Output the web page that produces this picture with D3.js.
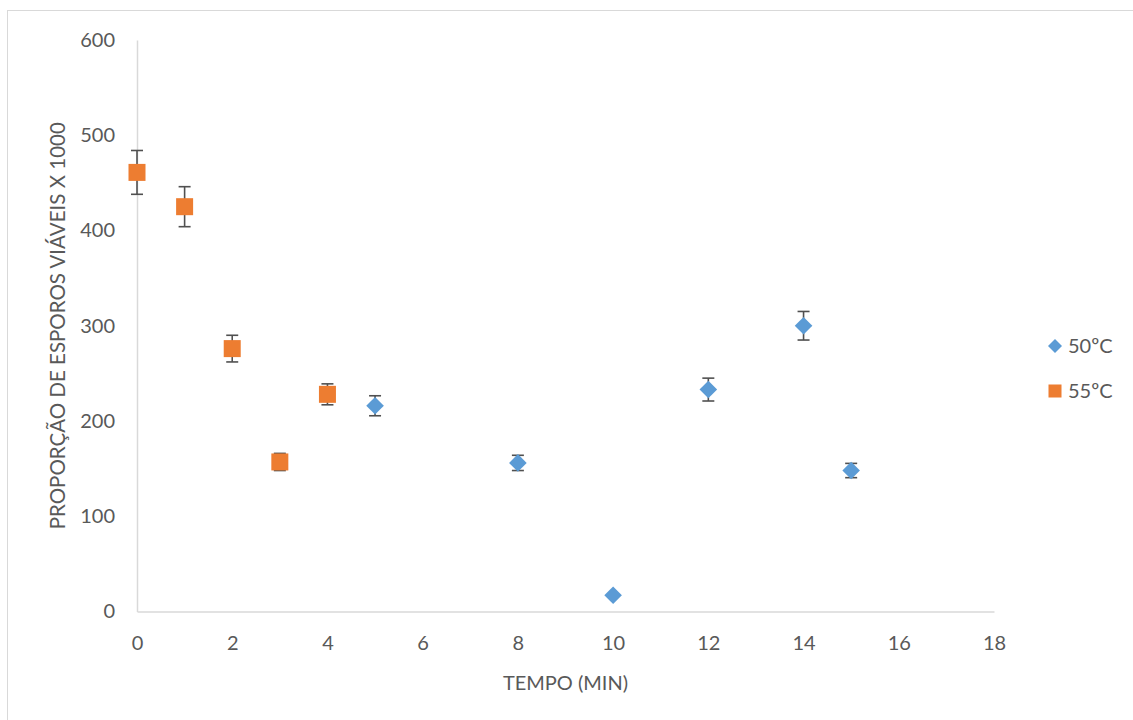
<!DOCTYPE html>
<html>
<head>
<meta charset="utf-8">
<script src="https://cdn.jsdelivr.net/npm/d3@7"></script>
<style>
  body { margin: 0; background: #fff; }
  text { font-family: Lato, "Open Sans", sans-serif; fill: #595959; }
</style>
</head>
<body>
<div id="chart"></div>
<script>
// 50ºC series
var tempo50 = [5, 8, 10, 12, 14, 15]
var valores50 = [216, 156, 17, 233, 300, 148]
var erros50 = [10.5, 8, 0, 12, 15, 7.5]

// 55ºC series
var tempo55 = [0, 1, 2, 3, 4]
var valores55 = [461, 425, 276, 157, 228]
var erros55 = [23, 21, 14, 9, 11]

var xTicks = [0, 2, 4, 6, 8, 10, 12, 14, 16, 18]
var yTicks = [0, 100, 200, 300, 400, 500, 600]
var seriesNames = ['50ºC', '55ºC']

var width = 1133, height = 720

var svg = d3.select('#chart').append('svg')
  .attr('width', width)
  .attr('height', height)

// chart border
svg.append('rect')
  .attr('x', 7.5).attr('y', 10.5)
  .attr('width', 1140).attr('height', 730)
  .attr('fill', 'none')
  .attr('stroke', '#d9d9d9')

var x = d3.scaleLinear().domain([0, 18]).range([137, 994])
var y = d3.scaleLinear().domain([0, 600]).range([611.5, 40])

// axes
var xAxis = d3.axisBottom(x).tickValues(xTicks).tickSize(0).tickPadding(24)
var gx = svg.append('g').attr('transform', 'translate(0,' + y(0) + ')').call(xAxis)
gx.select('.domain').attr('stroke', '#d9d9d9').attr('stroke-width', 1.5)
gx.selectAll('text').style('font-size', '20px').style('fill', '#595959').attr('font-family', null)

var yAxis = d3.axisLeft(y).tickValues(yTicks).tickSize(0).tickPadding(22)
var gy = svg.append('g').attr('transform', 'translate(' + x(0) + ',0)').call(yAxis)
gy.select('.domain').attr('stroke', '#d9d9d9').attr('stroke-width', 1.5)
gy.selectAll('text').style('font-size', '20px').style('fill', '#595959').attr('font-family', null)

// axis titles
svg.append('text')
  .attr('x', (x(0) + x(18)) / 2).attr('y', 690)
  .attr('text-anchor', 'middle')
  .style('font-size', '20px')
  .text('TEMPO (MIN)')

svg.append('text')
  .attr('transform', 'translate(65,' + (y(0) + y(600)) / 2 + ') rotate(-90)')
  .attr('text-anchor', 'middle')
  .style('font-size', '20.5px')
  .text('PROPORÇÃO DE ESPOROS VIÁVEIS X 1000')

// error bars
function errorBars(xs, vals, errs) {
  var g = svg.append('g').attr('stroke', '#505050').attr('stroke-width', 1.6)
  xs.forEach(function(t, i) {
    if (!errs[i]) return
    var cx = x(t), top = y(vals[i] + errs[i]), bot = y(vals[i] - errs[i])
    g.append('line').attr('x1', cx).attr('x2', cx).attr('y1', top).attr('y2', bot)
    g.append('line').attr('x1', cx - 6).attr('x2', cx + 6).attr('y1', top).attr('y2', top)
    g.append('line').attr('x1', cx - 6).attr('x2', cx + 6).attr('y1', bot).attr('y2', bot)
  })
}
errorBars(tempo50, valores50, erros50)
errorBars(tempo55, valores55, erros55)

// diamond with half-diagonal r
function diamondPath(r) {
  return 'M0,' + (-r) + 'L' + r + ',0L0,' + r + 'L' + (-r) + ',0Z'
}

svg.append('g').selectAll('path')
  .data(tempo50)
  .enter().append('path')
  .attr('d', diamondPath(8.8))
  .attr('transform', function(d, i) { return 'translate(' + x(d) + ',' + y(valores50[i]) + ')' })
  .attr('fill', '#5b9bd5')

svg.append('g').selectAll('rect')
  .data(tempo55)
  .enter().append('rect')
  .attr('x', function(d) { return x(d) - 8.5 })
  .attr('y', function(d, i) { return y(valores55[i]) - 8.5 })
  .attr('width', 17).attr('height', 17)
  .attr('fill', '#ed7d31')

// legend
var legend = svg.append('g')
legend.append('path')
  .attr('d', diamondPath(7))
  .attr('transform', 'translate(1055,346)')
  .attr('fill', '#5b9bd5')
legend.append('rect')
  .attr('x', 1048.5).attr('y', 384.5).attr('width', 13).attr('height', 13)
  .attr('fill', '#ed7d31')
legend.selectAll('text')
  .data(seriesNames)
  .enter().append('text')
  .attr('x', 1068)
  .attr('y', function(d, i) { return 346 + i * 45 })
  .attr('dy', '0.36em')
  .style('font-size', '20px')
  .text(function(d) { return d })
</script>
</body>
</html>
